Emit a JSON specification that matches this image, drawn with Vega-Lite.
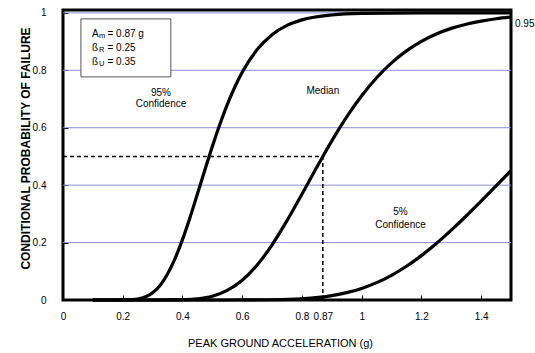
{
  "$schema": "https://vega.github.io/schema/vega-lite/v6.json",
  "width": 448,
  "height": 290,
  "autosize": {"type": "none"},
  "padding": {"left": 63, "top": 10, "right": 24, "bottom": 53},
  "background": "white",
  "config": {
    "view": {"stroke": "black", "strokeWidth": 3},
    "font": "Liberation Sans",
    "text": {"font": "Liberation Sans", "fontSize": 10, "color": "black"}
  },
  "datasets": {
    "grid": [{"p": 0.2}, {"p": 0.4}, {"p": 0.6}, {"p": 0.8}, {"p": 1.0}],
    "dash": [
      {"a": 0, "a2": 0.87, "p": 0.5, "p2": 0.5},
      {"a": 0.87, "a2": 0.87, "p": 0, "p2": 0.5}
    ],
    "box": [{"a": 0.06, "a2": 0.361, "p": 0.777, "p2": 0.979}],
    "boxtext": [
      {"main": "A", "sub": "m", "rest": "= 0.87 g", "a": 0.097, "p": 0.927},
      {"main": "ß", "sub": "R", "rest": "= 0.25", "a": 0.097, "p": 0.878},
      {"main": "ß", "sub": "U", "rest": "= 0.35", "a": 0.097, "p": 0.829}
    ],
    "labels": [
      {"t": "95%", "a": 0.328, "p": 0.721},
      {"t": "Confidence", "a": 0.328, "p": 0.683},
      {"t": "Median", "a": 0.87, "p": 0.728},
      {"t": "5%", "a": 1.13, "p": 0.307},
      {"t": "Confidence", "a": 1.13, "p": 0.261}
    ],
    "endlabel": [{"t": "0.95", "a": 1.5, "p": 0.962}],
    "curves": [
      {"s": "95%", "a": 0.1, "p": 0},
      {"s": "95%", "a": 0.15, "p": 0},
      {"s": "95%", "a": 0.2, "p": 0.0002},
      {"s": "95%", "a": 0.25, "p": 0.0036},
      {"s": "95%", "a": 0.3, "p": 0.0252},
      {"s": "95%", "a": 0.325, "p": 0.0509},
      {"s": "95%", "a": 0.35, "p": 0.0903},
      {"s": "95%", "a": 0.375, "p": 0.1439},
      {"s": "95%", "a": 0.4, "p": 0.2104},
      {"s": "95%", "a": 0.425, "p": 0.2867},
      {"s": "95%", "a": 0.45, "p": 0.3692},
      {"s": "95%", "a": 0.475, "p": 0.453},
      {"s": "95%", "a": 0.5, "p": 0.5349},
      {"s": "95%", "a": 0.525, "p": 0.611},
      {"s": "95%", "a": 0.55, "p": 0.6805},
      {"s": "95%", "a": 0.575, "p": 0.7409},
      {"s": "95%", "a": 0.6, "p": 0.793},
      {"s": "95%", "a": 0.65, "p": 0.8722},
      {"s": "95%", "a": 0.7, "p": 0.9241},
      {"s": "95%", "a": 0.75, "p": 0.9563},
      {"s": "95%", "a": 0.8, "p": 0.9755},
      {"s": "95%", "a": 0.9, "p": 0.9926},
      {"s": "95%", "a": 1.0, "p": 0.9979},
      {"s": "95%", "a": 1.2, "p": 0.9998},
      {"s": "95%", "a": 1.5, "p": 1.0},
      {"s": "50%", "a": 0.1, "p": 0},
      {"s": "50%", "a": 0.3, "p": 0},
      {"s": "50%", "a": 0.35, "p": 0.0001},
      {"s": "50%", "a": 0.4, "p": 0.0009},
      {"s": "50%", "a": 0.45, "p": 0.0042},
      {"s": "50%", "a": 0.5, "p": 0.0133},
      {"s": "50%", "a": 0.55, "p": 0.0333},
      {"s": "50%", "a": 0.6, "p": 0.0686},
      {"s": "50%", "a": 0.65, "p": 0.1218},
      {"s": "50%", "a": 0.7, "p": 0.1922},
      {"s": "50%", "a": 0.75, "p": 0.2763},
      {"s": "50%", "a": 0.8, "p": 0.3684},
      {"s": "50%", "a": 0.85, "p": 0.4629},
      {"s": "50%", "a": 0.87, "p": 0.5},
      {"s": "50%", "a": 0.9, "p": 0.5541},
      {"s": "50%", "a": 0.95, "p": 0.6376},
      {"s": "50%", "a": 1.0, "p": 0.7113},
      {"s": "50%", "a": 1.05, "p": 0.774},
      {"s": "50%", "a": 1.1, "p": 0.8259},
      {"s": "50%", "a": 1.15, "p": 0.8678},
      {"s": "50%", "a": 1.2, "p": 0.9008},
      {"s": "50%", "a": 1.25, "p": 0.9265},
      {"s": "50%", "a": 1.3, "p": 0.946},
      {"s": "50%", "a": 1.35, "p": 0.9606},
      {"s": "50%", "a": 1.4, "p": 0.9715},
      {"s": "50%", "a": 1.45, "p": 0.9795},
      {"s": "50%", "a": 1.5, "p": 0.9853},
      {"s": "5%", "a": 0.1, "p": 0},
      {"s": "5%", "a": 0.5, "p": 0},
      {"s": "5%", "a": 0.6, "p": 0.0001},
      {"s": "5%", "a": 0.7, "p": 0.0008},
      {"s": "5%", "a": 0.8, "p": 0.0042},
      {"s": "5%", "a": 0.9, "p": 0.0151},
      {"s": "5%", "a": 0.95, "p": 0.0255},
      {"s": "5%", "a": 1.0, "p": 0.0404},
      {"s": "5%", "a": 1.05, "p": 0.0605},
      {"s": "5%", "a": 1.1, "p": 0.0861},
      {"s": "5%", "a": 1.15, "p": 0.1176},
      {"s": "5%", "a": 1.2, "p": 0.1546},
      {"s": "5%", "a": 1.25, "p": 0.1966},
      {"s": "5%", "a": 1.3, "p": 0.2432},
      {"s": "5%", "a": 1.35, "p": 0.2925},
      {"s": "5%", "a": 1.4, "p": 0.3446},
      {"s": "5%", "a": 1.45, "p": 0.3974},
      {"s": "5%", "a": 1.5, "p": 0.4507}
    ]
  },
  "layer": [
    {
      "data": {"name": "grid"},
      "mark": {"type": "rule", "color": "#8e8ed6", "strokeWidth": 1},
      "encoding": {
        "y": {
          "field": "p",
          "type": "quantitative",
          "scale": {"domain": [0, 1.01], "nice": false, "zero": false},
          "axis": {
            "title": "CONDITIONAL PROBABILITY OF FAILURE",
            "values": [0, 0.1, 0.2, 0.3, 0.4, 0.5, 0.6, 0.7, 0.8, 0.9, 1],
            "format": ".2~f",
            "labelExpr": "indexof([0, 0.2, 0.4, 0.5, 0.6, 0.8, 1], datum.value) >= 0 ? datum.label : ''",
            "grid": false,
            "domain": false,
            "tickSize": -5,
            "tickColor": "black",
            "tickWidth": 1,
            "labelPadding": 22,
            "labelFont": "Liberation Sans",
            "labelFontSize": 10,
            "labelColor": "black",
            "labelFlush": false,
            "labelOverlap": false,
            "titleFont": "Liberation Sans",
            "titleFontSize": 12,
            "titleFontWeight": "bold",
            "titleColor": "black",
            "titleX": -38,
            "titleY": 138,
            "titleAngle": 270,
            "titleAlign": "center",
            "titleBaseline": "middle"
          }
        }
      }
    },
    {
      "data": {"name": "box"},
      "mark": {"type": "rect", "fill": "white", "stroke": "#555555", "strokeWidth": 1},
      "encoding": {
        "x": {"field": "a", "type": "quantitative"},
        "x2": {"field": "a2"},
        "y": {"field": "p", "type": "quantitative"},
        "y2": {"field": "p2"}
      }
    },
    {
      "data": {"name": "boxtext"},
      "mark": {"type": "text", "align": "left", "baseline": "middle", "fontSize": 10},
      "encoding": {
        "x": {"field": "a", "type": "quantitative"},
        "y": {"field": "p", "type": "quantitative"},
        "text": {"field": "main"}
      }
    },
    {
      "data": {"name": "boxtext"},
      "mark": {"type": "text", "align": "left", "baseline": "middle", "fontSize": 7.5, "dx": 7, "dy": 2},
      "encoding": {
        "x": {"field": "a", "type": "quantitative"},
        "y": {"field": "p", "type": "quantitative"},
        "text": {"field": "sub"}
      }
    },
    {
      "data": {"name": "boxtext"},
      "mark": {"type": "text", "align": "left", "baseline": "middle", "fontSize": 10, "dx": 15.5},
      "encoding": {
        "x": {"field": "a", "type": "quantitative"},
        "y": {"field": "p", "type": "quantitative"},
        "text": {"field": "rest"}
      }
    },
    {
      "data": {"name": "dash"},
      "mark": {"type": "rule", "color": "black", "strokeWidth": 1.5, "strokeDash": [4, 3]},
      "encoding": {
        "x": {"field": "a", "type": "quantitative"},
        "x2": {"field": "a2"},
        "y": {"field": "p", "type": "quantitative"},
        "y2": {"field": "p2"}
      }
    },
    {
      "data": {"name": "curves"},
      "mark": {"type": "line", "color": "black", "strokeWidth": 3.2, "interpolate": "monotone"},
      "encoding": {
        "x": {
          "field": "a",
          "type": "quantitative",
          "scale": {"domain": [0, 1.5], "nice": false, "zero": false},
          "axis": {
            "title": "PEAK GROUND ACCELERATION (g)",
            "values": [0, 0.2, 0.4, 0.6, 0.8, 0.87, 1, 1.2, 1.4],
            "format": ".2~f",
            "grid": false,
            "domain": false,
            "tickSize": -5,
            "tickColor": "black",
            "tickWidth": 1,
            "labelPadding": 16,
            "labelFont": "Liberation Sans",
            "labelFontSize": 10,
            "labelColor": "black",
            "labelFlush": false,
            "labelOverlap": false,
            "titleFont": "Liberation Sans",
            "titleFontSize": 11,
            "titleFontWeight": "normal",
            "titleColor": "black",
            "titleX": 217,
            "titleY": 43,
            "titleAlign": "center",
            "titleBaseline": "middle"
          }
        },
        "y": {"field": "p", "type": "quantitative"},
        "detail": {"field": "s"}
      }
    },
    {
      "data": {"name": "labels"},
      "mark": {"type": "text", "align": "center", "baseline": "middle", "fontSize": 10},
      "encoding": {
        "x": {"field": "a", "type": "quantitative"},
        "y": {"field": "p", "type": "quantitative"},
        "text": {"field": "t"}
      }
    },
    {
      "data": {"name": "endlabel"},
      "mark": {"type": "text", "align": "left", "baseline": "middle", "fontSize": 10, "dx": 4},
      "encoding": {
        "x": {"field": "a", "type": "quantitative"},
        "y": {"field": "p", "type": "quantitative"},
        "text": {"field": "t"}
      }
    }
  ]
}
